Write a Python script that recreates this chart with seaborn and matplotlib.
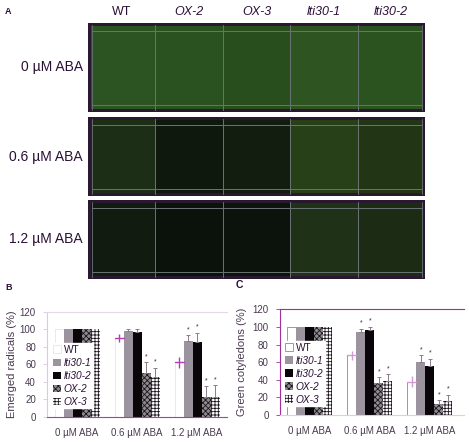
import numpy as np
import pandas as pd
import matplotlib
matplotlib.use("Agg")
from matplotlib import pyplot as plt
from matplotlib.patches import Rectangle
import seaborn as sns

# ---- data ----
doses = ['0 µM ABA', '0.6 µM ABA', '1.2 µM ABA']
genotypes = ['WT', 'lti30-1', 'lti30-2', 'OX-2', 'OX-3']
photo_cols = ['WT', 'OX-2', 'OX-3', 'lti30-1', 'lti30-2']

# emerged radicals (%), one list per genotype, one value per dose
radicals = [[100, 90, 62], [100, 98, 86], [100, 97, 85], [100, 50, 23], [100, 45, 23]]
radicals_err = [[0, 5, 6], [0, 2, 7], [0, 3, 11], [0, 12, 12], [0, 11, 13]]
radicals_star = [[0, 0, 0], [0, 0, 1], [0, 0, 1], [0, 1, 1], [0, 1, 1]]

# green cotyledons (%)
cotyledons = [[100, 68, 38], [100, 94, 60], [100, 96, 56], [100, 36, 12], [100, 39, 16]]
cotyledons_err = [[0, 5, 6], [0, 4, 8], [0, 4, 8], [0, 7, 5], [0, 7, 7]]
cotyledons_star = [[0, 0, 0], [0, 1, 1], [0, 1, 1], [0, 1, 1], [0, 1, 1]]

# average colour of each plate cell in the photo (rows = dose, cols = photo_cols)
photo_colors = [
    ['#2b5422', '#2a5220', '#284e1e', '#2d5421', '#2b5320'],
    ['#1d2e16', '#0f180d', '#121d0f', '#284018', '#223616'],
    ['#121b0f', '#0b110b', '#0c130c', '#1f3116', '#1c2c14'],
]

bar_colors = {'WT': '#ffffff', 'lti30-1': '#9b939d', 'lti30-2': '#0a0509',
              'OX-2': '#8e8a8e', 'OX-3': '#ffffff'}
hatches = {'OX-2': 'xxxxxx', 'OX-3': '+++++'}
text_col = '#4a3a50'
dark_text = '#2b1035'

sns.set_style('white')
plt.rcParams['font.family'] = ['Liberation Sans', 'DejaVu Sans']
plt.rcParams['hatch.linewidth'] = 0.6

W, H = 469, 442
fig = plt.figure(figsize=(W / 100, H / 100), dpi=100)

# ---- panel A: photo placeholder drawn as plate cells ----
axa = fig.add_axes([0, 0, 1, 1])
axa.set_xlim(0, W)
axa.set_ylim(H, 0)
axa.axis('off')
x0, x1 = 88, 425
rows = [(23, 112), (117, 196), (200, 279)]
cw = (x1 - x0) / len(photo_cols)
for r, (t, b) in enumerate(rows):
    axa.add_patch(Rectangle((x0, t), x1 - x0, b - t, facecolor='#2a1830', edgecolor='none'))
    for c in range(len(photo_cols)):
        left = x0 + c * cw + (3 if c == 0 else 0)
        right = x0 + (c + 1) * cw - (3 if c == len(photo_cols) - 1 else 0)
        axa.add_patch(Rectangle((left, t + 3), right - left, b - t - 6,
                                facecolor=photo_colors[r][c], edgecolor='none'))
    for c in range(1, len(photo_cols)):
        axa.plot([x0 + c * cw] * 2, [t + 2, b - 2], color='#6a7474', lw=0.7)
    axa.plot([x0 + 4, x1 - 3], [t + 8, t + 8], color='#6a7474', lw=0.7)
    axa.plot([x0 + 4, x1 - 3], [b - 7, b - 7], color='#6a7474', lw=0.7)
    axa.plot([x0 + 4] * 2, [t + 2, b - 2], color='#6a7474', lw=0.6)
    axa.plot([x1 - 3] * 2, [t + 2, b - 2], color='#6a7474', lw=0.6)
    axa.text(x0 - 5, (t + b) / 2, doses[r], ha='right', va='center', fontsize=10, color=dark_text)
for c, name in enumerate(photo_cols):
    axa.text(x0 + (c + 0.5) * cw, 12, name, ha='center', va='center', fontsize=9,
             color=dark_text, style='normal' if name == 'WT' else 'italic')
axa.text(5, 12, 'A', fontsize=6.5, fontweight='bold', color=dark_text, va='center')
axa.text(5, 288, 'B', fontsize=6.5, fontweight='bold', color=dark_text, va='center')
axa.text(236, 285, 'C', fontsize=7.5, fontweight='bold', color=dark_text, va='center')


def bar_panel(rect, values, errs, stars, ylabel, label_x, spine_cols, wt_edge, xmax):
    ax = fig.add_axes(rect)
    df = pd.DataFrame({
        'dose': [d for g in genotypes for d in doses],
        'genotype': [g for g in genotypes for d in doses],
        'value': [v for row in values for v in row],
    })
    sns.barplot(data=df, x='dose', y='value', hue='genotype', order=doses,
                hue_order=genotypes, palette=bar_colors, width=0.75, gap=0,
                errorbar=None, legend=False, ax=ax, linewidth=0, saturation=1)
    bars = list(ax.containers)
    for gi, (g, cont) in enumerate(zip(genotypes, bars)):
        for di, p in enumerate(cont.patches):
            p.set_zorder(2)
            if g in hatches:
                p.set_hatch(hatches[g])
                p.set_edgecolor('#1a141a')
                p.set_linewidth(0)
            if g == 'WT':
                p.set_edgecolor(wt_edge)
                p.set_linewidth(0.7)
            cx = p.get_x() + p.get_width() / 2
            top = p.get_height()
            e = errs[gi][di]
            if e:
                if g == 'WT':
                    ax.errorbar(cx, top, yerr=e, color=spine_cols['wt'], lw=1.0,
                                capsize=0, zorder=4)
                    ax.plot([p.get_x(), p.get_x() + p.get_width()], [top, top],
                            color=spine_cols['wt'], lw=1.0, zorder=4)
                else:
                    ax.errorbar(cx, top, yerr=[[0], [e]], color='#8a7c8a', lw=0.7,
                                capsize=1.2, capthick=0.7, zorder=4)
            if stars[gi][di]:
                ax.annotate('*', (cx, top + e), xytext=(0, 1.5), textcoords='offset points',
                            ha='center', va='bottom', fontsize=5, color='#3a2a3a')
    ax.set_ylim(0, 120)
    ax.set_xlim(-0.5, xmax)
    ax.set_yticks(range(0, 121, 20))
    ax.set_xlabel('')
    ax.set_ylabel(ylabel, fontsize=8, color=text_col)
    ax.yaxis.set_label_coords(label_x, 0.5)
    ax.tick_params(axis='x', length=0, pad=8, labelsize=7, labelcolor=text_col)
    ax.tick_params(axis='y', length=3, width=0.6, pad=5, labelsize=7,
                   labelcolor=text_col, color=spine_cols['left'], left=True)
    ax.spines['right'].set_visible(False)
    for side in ('left', 'top', 'bottom'):
        ax.spines[side].set_color(spine_cols[side])
        ax.spines[side].set_linewidth(0.8)
    handles = [c.patches[0] for c in bars]
    return ax, handles


axb, hb = bar_panel([47 / W, (H - 416.7) / H, 180 / W, 105 / H], radicals, radicals_err,
                    radicals_star, 'Emerged radicals (%)', -0.165,
                    {'left': '#dcc8e0', 'top': '#e6d8ea', 'bottom': '#a640a6', 'wt': '#b040b0'},
                    '#efe4f0', 2.5)
axc, hc = bar_panel([279.7 / W, (H - 415) / H, 184.3 / W, 105.7 / H], cotyledons, cotyledons_err,
                    cotyledons_star, 'Green cotyledons (%)', -0.18,
                    {'left': '#a030a0', 'top': '#a030a0', 'bottom': '#e0cce4', 'wt': '#d49ad4'},
                    '#c67cc6', 2.57)

for ax, hd, anchor in ((axb, hb, (0.025, 0.70)), (axc, hc, (0.02, 0.70))):
    leg = ax.legend(hd, genotypes, loc='upper left', bbox_to_anchor=anchor, fontsize=7.3,
                    frameon=True, fancybox=False, framealpha=1, facecolor='white',
                    edgecolor='white', borderpad=0.15, borderaxespad=0, handlelength=0.75,
                    handleheight=0.75, handletextpad=0.3, labelspacing=0.3)
    leg.set_zorder(3)
    for t in leg.get_texts():
        t.set_color(dark_text)
        if t.get_text() != 'WT':
            t.set_style('italic')

fig.savefig('out.png', dpi=100)
